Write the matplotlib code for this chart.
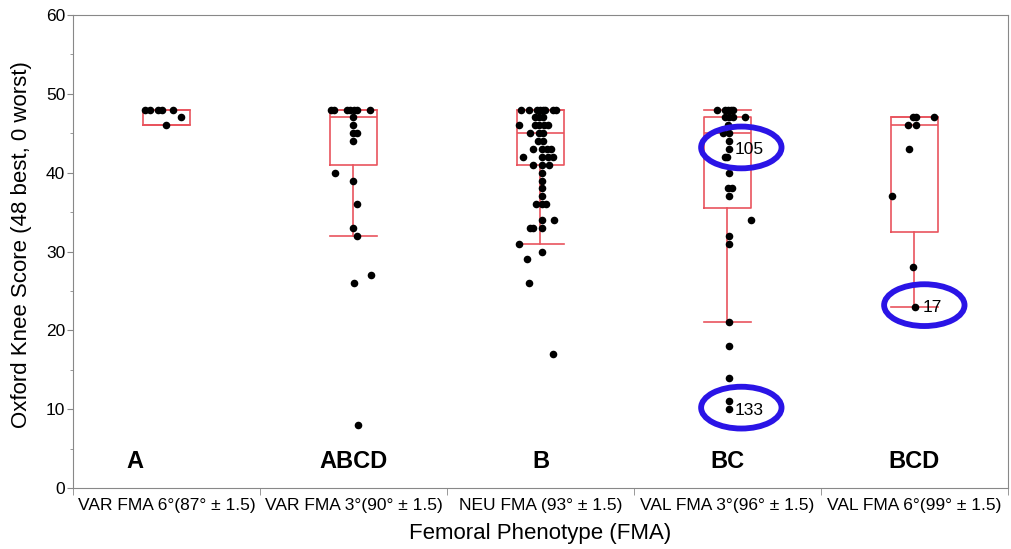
import matplotlib.pyplot as plt
from matplotlib.patches import Ellipse
import numpy as np

plt.rcParams['font.family'] = ['Liberation Sans', 'DejaVu Sans']

groups = ['VAR FMA 6°(87° ± 1.5)', 'VAR FMA 3°(90° ± 1.5)', 'NEU FMA (93° ± 1.5)',
          'VAL FMA 3°(96° ± 1.5)', 'VAL FMA 6°(99° ± 1.5)']
letters = ['A', 'ABCD', 'B', 'BC', 'BCD']

# Oxford knee score of every dot, per phenotype
score_a = [48, 48, 48, 48, 48, 47, 46]
score_abcd = [48, 48, 48, 48, 48, 48, 48, 47, 46, 45, 45, 44, 40, 39, 36, 33, 32, 27, 26, 8]
score_b = [48, 48, 48, 48, 48, 48, 48, 48, 47, 47, 47, 46, 46, 46, 46, 46, 45, 45, 45,
           44, 44, 43, 43, 43, 43, 42, 42, 42, 42, 41, 41, 41, 40, 39, 38, 37,
           36, 36, 36, 34, 34, 33, 33, 33, 31, 30, 29, 26, 17]
score_bc = [48, 48, 48, 48, 48, 47, 47, 47, 47, 46, 45, 45, 44, 43, 42, 42, 40, 38, 38,
            37, 34, 32, 31, 21, 18, 14, 11, 10]
score_bcd = [47, 47, 47, 46, 46, 43, 37, 28, 23]
scores = [score_a, score_abcd, score_b, score_bc, score_bcd]

# horizontal spread of the dots (pixels off the group centre, as seen)
jit_a = [-21.5, -16.5, -8.5, -4.5, 6.5, 14.5, -0.5]
jit_abcd = [-22.8, -19.5, -6.8, -3.5, 0.5, 3.8, 16.5, -0.2, 0, -0.8, 3.8, 0, -18.2, 0, 3.8, 0, 3.8, 17.2, 0.5, 4.8]
jit_b = [-19.8, -11.5, -3.2, -0.5, 2.2, 4.5, 12.2, 15.5, -5.5, -1.2, 2.8, -21.2, -5.5, -1.2, 3.5, 7.8,
         -10.5, -1.2, 2.2, -2.2, 2.2, -7.2, 1.2, 6.2, 10.5, -17.2, 1.2, 7.8, 12.8, -7.2, 1.2, 8.8,
         1.2, 1.2, 1.2, 1.2, -4.5, 1.2, 5.5, 1.2, 13.5, -10.5, -7.2, 1.2, -21.2, 1.2, -13.8, -11.2, 12.8]
jit_bc = [-10.2, -2.5, 0.8, 3.2, 5.2, -2.5, 1.8, 5.8, 17.5, 0.8, -4.2, 1.8, 1.8, 1.8, -2.5, -0.2,
          1.8, 0.8, 4.2, 1.8, 23.2, 1.8, 1.8, 1.5, 1.5, 1.5, 1.5, 1.5]
jit_bcd = [-1.2, 1.5, 19.5, -6.8, 1.5, -5.2, -22.2, -1.8, 0.5]
jitters = [jit_a, jit_abcd, jit_b, jit_bc, jit_bcd]

# box statistics as drawn
q1 = [46, 41, 41, 35.5, 32.5]
med = [46, 47, 45, 45, 46]
q3 = [48, 48, 48, 47, 47]
whislo = [46, 32, 31, 21, 23]
whishi = [48, 48, 48, 48, 47]

# circled patient ids
ids = ['105', '133', '17']
id_group = [3, 3, 4]
id_score = [43, 10, 23]

fig = plt.figure(figsize=(10.12, 5.49), dpi=100)
ax = fig.add_axes([0.0721, 0.111, 0.9239, 0.8617])

box_col = '#E9545E'
stats = [dict(med=med[i], q1=q1[i], q3=q3[i], whislo=whislo[i], whishi=whishi[i], fliers=[])
         for i in range(len(groups))]
ax.bxp(stats, positions=range(len(groups)), widths=0.25, capwidths=0.25, showfliers=False,
       boxprops=dict(color=box_col, lw=1.2), medianprops=dict(color=box_col, lw=1.2),
       whiskerprops=dict(color=box_col, lw=1.2), capprops=dict(color=box_col, lw=1.2))

for i in range(len(groups)):
    xs = i + np.array(jitters[i]) / 187.0
    ax.scatter(xs, scores[i], s=30, color='black', zorder=3, linewidths=0)
    ax.text(i if i else -0.168, 3.4, letters[i], ha='center', va='center',
            fontsize=17, fontweight='bold')

for lab, g, sc in zip(ids, id_group, id_score):
    cx = g + (12 if lab != '17' else 8) / 187.0
    ax.add_patch(Ellipse((cx + 0.01, sc + 0.2), 0.43, 5.3, fill=False, ec='#2A14E6', lw=4.2, zorder=4))
    ax.text(g + 0.04 if lab != '17' else g + 0.045, sc - 0.1, lab, ha='left', va='center', fontsize=12.5, zorder=5)

ax.set_xlim(-0.5, 4.5)
ax.set_ylim(0, 60)
ax.set_xticks(range(len(groups)), groups, fontsize=12.5)
ax.set_xticks(np.arange(-0.5, 5, 1), minor=True)
ax.tick_params(axis='x', which='major', length=0, pad=7.5)
ax.tick_params(axis='x', which='minor', length=5, color='#888888')
ax.set_yticks(range(0, 61, 10))
ax.set_yticks(range(5, 60, 10), minor=True)
ax.tick_params(axis='y', which='major', length=4, color='#888888', labelsize=12.5, pad=1.5)
ax.tick_params(axis='y', which='minor', length=2.5, color='#888888')
for sp in ax.spines.values():
    sp.set_color('#888888')

ax.set_xlabel('Femoral Phenotype (FMA)', fontsize=16, labelpad=7)
ax.set_ylabel('Oxford Knee Score (48 best, 0 worst)', fontsize=16)
ax.yaxis.set_label_coords(-0.044, 0.514)

fig.savefig('out.png', dpi=100)
